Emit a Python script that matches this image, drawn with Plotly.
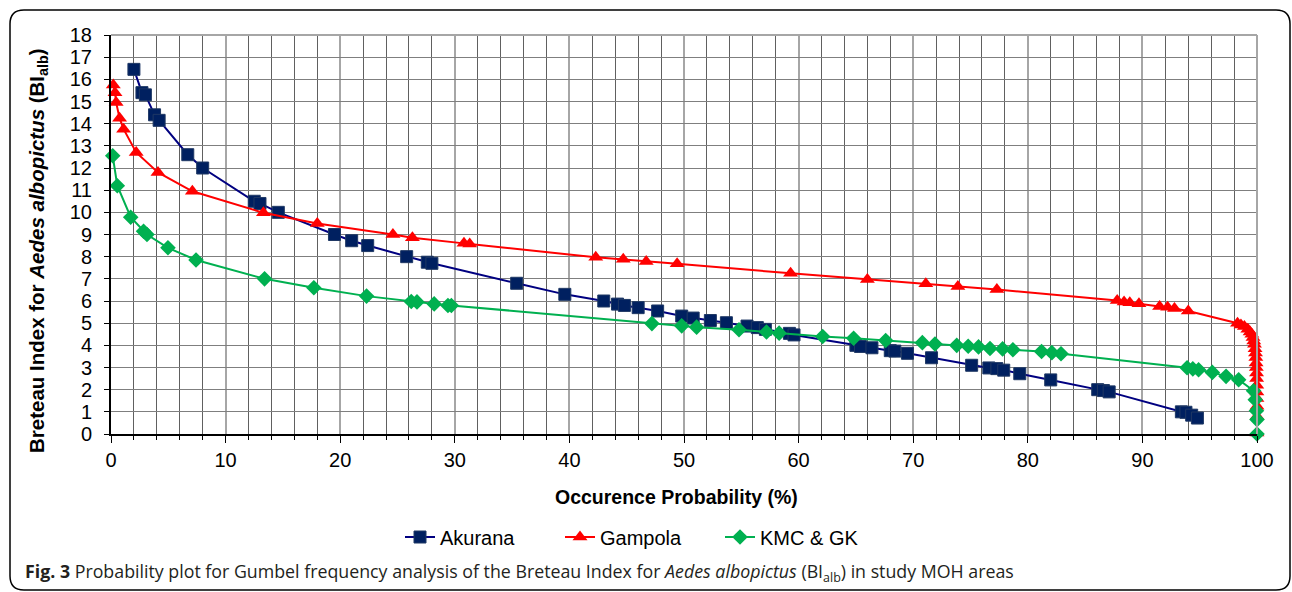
import plotly.graph_objects as go

# ---------------- data ----------------
akurana_x = [2.0, 2.7, 3.0, 3.8, 4.2, 6.7, 8.0, 12.5, 13.0, 14.6, 19.5, 21.0, 22.4, 25.8, 27.6, 28.0,
             35.4, 39.6, 43.0, 44.2, 44.8, 46.0, 47.7, 49.8, 50.8, 52.3, 53.7, 55.5, 56.4, 57.1,
             59.2, 59.6, 65.0, 65.4, 66.4, 68.0, 68.4, 69.5, 71.6, 75.1, 76.6, 77.3, 77.9, 79.3,
             82.0, 86.1, 86.6, 87.1, 93.4, 93.8, 94.3, 94.8]
akurana_y = [16.45, 15.4, 15.3, 14.4, 14.15, 12.6, 12.0, 10.5, 10.4, 10.0, 9.0, 8.72, 8.5, 8.0, 7.75, 7.7,
             6.8, 6.3, 6.0, 5.86, 5.8, 5.7, 5.55, 5.32, 5.23, 5.12, 5.02, 4.87, 4.8, 4.72,
             4.54, 4.47, 4.0, 3.95, 3.89, 3.76, 3.74, 3.64, 3.44, 3.1, 2.98, 2.95, 2.88, 2.72,
             2.44, 2.0, 1.96, 1.9, 1.0, 0.98, 0.85, 0.72]

gampola_x = [0.2, 0.35, 0.45, 0.75, 1.1, 2.2, 4.1, 7.1, 13.3, 18.0, 24.6, 26.3, 30.8, 31.3,
             42.3, 44.7, 46.7, 49.4, 59.3, 66.0, 71.1, 73.9, 77.3, 87.8, 88.4, 88.9, 89.7,
             91.5, 92.2, 92.8, 94.0, 98.3, 98.6, 98.9, 99.2, 99.4, 99.55, 99.65, 99.72, 99.78,
             99.83, 99.87, 99.9, 99.92, 99.94, 99.96, 99.97, 99.98, 99.99, 99.995, 100.0, 100.0, 100.0]
gampola_y = [15.75, 15.4, 14.95, 14.25, 13.75, 12.7, 11.8, 10.95, 9.98, 9.5, 9.0, 8.85, 8.6, 8.57,
             7.97, 7.88, 7.78, 7.68, 7.25, 6.97, 6.78, 6.65, 6.52, 6.02, 5.95, 5.92, 5.88,
             5.75, 5.72, 5.66, 5.55, 5.0, 4.92, 4.85, 4.72, 4.6, 4.5, 4.35, 4.2, 4.05,
             3.85, 3.65, 3.45, 3.2, 3.0, 2.75, 2.5, 2.2, 1.9, 1.6, 1.25, 0.8, 0.05]

kmc_x = [0.15, 0.55, 1.72, 2.84, 3.14, 4.97, 7.42, 13.4, 17.7, 22.3, 26.2, 26.7, 28.2, 29.4, 29.7,
         47.2, 49.8, 51.1, 54.8, 57.2, 58.3, 62.1, 64.8, 67.6, 70.8, 71.9, 73.8, 74.8, 75.7,
         76.7, 77.8, 78.7, 81.2, 82.1, 82.9, 93.9, 94.4, 94.9, 96.1, 97.3, 98.4, 99.7, 99.85,
         99.95, 100.0, 100.0]
kmc_y = [12.55, 11.2, 9.78, 9.15, 9.0, 8.4, 7.85, 7.0, 6.6, 6.22, 5.98, 5.96, 5.87, 5.8, 5.8,
         4.98, 4.88, 4.82, 4.7, 4.6, 4.55, 4.4, 4.32, 4.22, 4.12, 4.06, 4.0, 3.96, 3.93,
         3.86, 3.84, 3.8, 3.72, 3.67, 3.62, 2.99, 2.94, 2.9, 2.78, 2.6, 2.45, 1.95, 1.55,
         1.05, 0.65, 0.0]

series_names = ["Akurana", "Gampola", "KMC & GK"]
x_ticks = list(range(0, 101, 10))
y_ticks = list(range(0, 19))

# ---------------- layout geometry ----------------
W, H = 1292, 592
ML, MR, MT, MB = 111, 35, 35, 158
PW, PH = W - ML - MR, H - MT - MB


def px(x):
    return (x - ML) / PW


def py(y):
    return (H - MB - y) / PH


fig = go.Figure()
fig.add_trace(go.Scatter(
    x=akurana_x, y=akurana_y, name=series_names[0], mode="lines+markers",
    line=dict(color="#000080", width=2),
    marker=dict(symbol="square", size=12, color="#002060", line=dict(color="#1F3864", width=1)),
    cliponaxis=False))
fig.add_trace(go.Scatter(
    x=gampola_x, y=gampola_y, name=series_names[1], mode="lines+markers",
    line=dict(color="#FF0000", width=2),
    marker=dict(symbol="triangle-up", size=13, color="#FF0000", line=dict(color="#FF0000", width=0)),
    cliponaxis=False))
fig.add_trace(go.Scatter(
    x=kmc_x, y=kmc_y, name=series_names[2], mode="lines+markers",
    line=dict(color="#00B050", width=2),
    marker=dict(symbol="diamond", size=12, color="#00B050", line=dict(color="#00B050", width=0)),
    cliponaxis=False))

axis_font = dict(family="Liberation Sans, Arial, sans-serif", size=20, color="#000000")

fig.update_xaxes(
    range=[0, 100], tickvals=x_ticks, ticktext=[str(v) for v in x_ticks],
    showgrid=True, gridcolor="#A6A6A6", gridwidth=2,
    minor=dict(dtick=2, showgrid=True, gridcolor="#606060", gridwidth=1,
               ticks="outside", ticklen=4, tickcolor="#000000"),
    ticks="outside", ticklen=7, tickcolor="#000000",
    showline=True, linecolor="#000000", linewidth=2,
    zeroline=False, tickfont=axis_font, fixedrange=True)
fig.update_yaxes(
    range=[0, 18], tickvals=y_ticks, ticktext=[str(v) for v in y_ticks],
    showgrid=True, gridcolor="#7F7F7F", gridwidth=1,
    ticks="outside", ticklen=5, tickcolor="#000000", ticklabelstandoff=8,
    showline=True, linecolor="#000000", linewidth=2,
    zeroline=False, tickfont=axis_font, fixedrange=True)

# rounded outer frame
x0, x1 = px(10), px(1290)
y0, y1 = py(590), py(10)
rx, ry = 14 / PW, 14 / PH
path = (f"M {x0+rx},{y1} L {x1-rx},{y1} Q {x1},{y1} {x1},{y1-ry} "
        f"L {x1},{y0+ry} Q {x1},{y0} {x1-rx},{y0} "
        f"L {x0+rx},{y0} Q {x0},{y0} {x0},{y0+ry} "
        f"L {x0},{y1-ry} Q {x0},{y1} {x0+rx},{y1} Z")
fig.add_shape(type="path", xref="paper", yref="paper", path=path,
              line=dict(color="#000000", width=1.5), layer="below")
# top and right borders of the plot area (grey)
fig.add_shape(type="line", xref="paper", yref="paper", x0=0, x1=1, y0=1, y1=1,
              line=dict(color="#A6A6A6", width=2))
fig.add_shape(type="line", xref="paper", yref="paper", x0=1, x1=1, y0=0, y1=1,
              line=dict(color="#A6A6A6", width=2))

fig.add_annotation(
    text="<b>Breteau Index for <i>Aedes albopictus</i> (BI<sub>alb</sub>)</b>",
    xref="paper", yref="paper", x=px(38), y=py(251), textangle=-90,
    showarrow=False, xanchor="center", yanchor="middle",
    font=dict(family="Liberation Sans, Arial, sans-serif", size=20.5, color="#000000"))
fig.add_annotation(
    text="<b>Occurence Probability (%)</b>",
    xref="paper", yref="paper", x=px(676), y=py(497),
    showarrow=False, xanchor="center", yanchor="middle",
    font=dict(family="Liberation Sans, Arial, sans-serif", size=19.5, color="#000000"))
fig.add_annotation(
    text="<b>Fig. 3</b> Probability plot for Gumbel frequency analysis of the Breteau Index for "
         "<i>Aedes albopictus</i> (BI<sub>alb</sub>) in study MOH areas",
    xref="paper", yref="paper", x=px(23), y=py(572),
    showarrow=False, xanchor="left", yanchor="middle",
    font=dict(family="Open Sans, Noto Sans, sans-serif", size=17.8, color="#231F20"))

fig.update_layout(
    width=W, height=H,
    margin=dict(l=ML, r=MR, t=MT, b=MB, autoexpand=False),
    paper_bgcolor="#FFFFFF", plot_bgcolor="#FFFFFF",
    showlegend=True,
    legend=dict(orientation="h", x=px(640), y=py(537), xanchor="center", yanchor="middle",
                font=dict(family="Liberation Sans, Arial, sans-serif", size=20, color="#000000"),
                bgcolor="rgba(0,0,0,0)", entrywidth=115, entrywidthmode="pixels",
                tracegroupgap=0),
)

fig.write_html("out.html", post_script="document.body.style.margin='0';",
               config={"displayModeBar": False, "staticPlot": False})
